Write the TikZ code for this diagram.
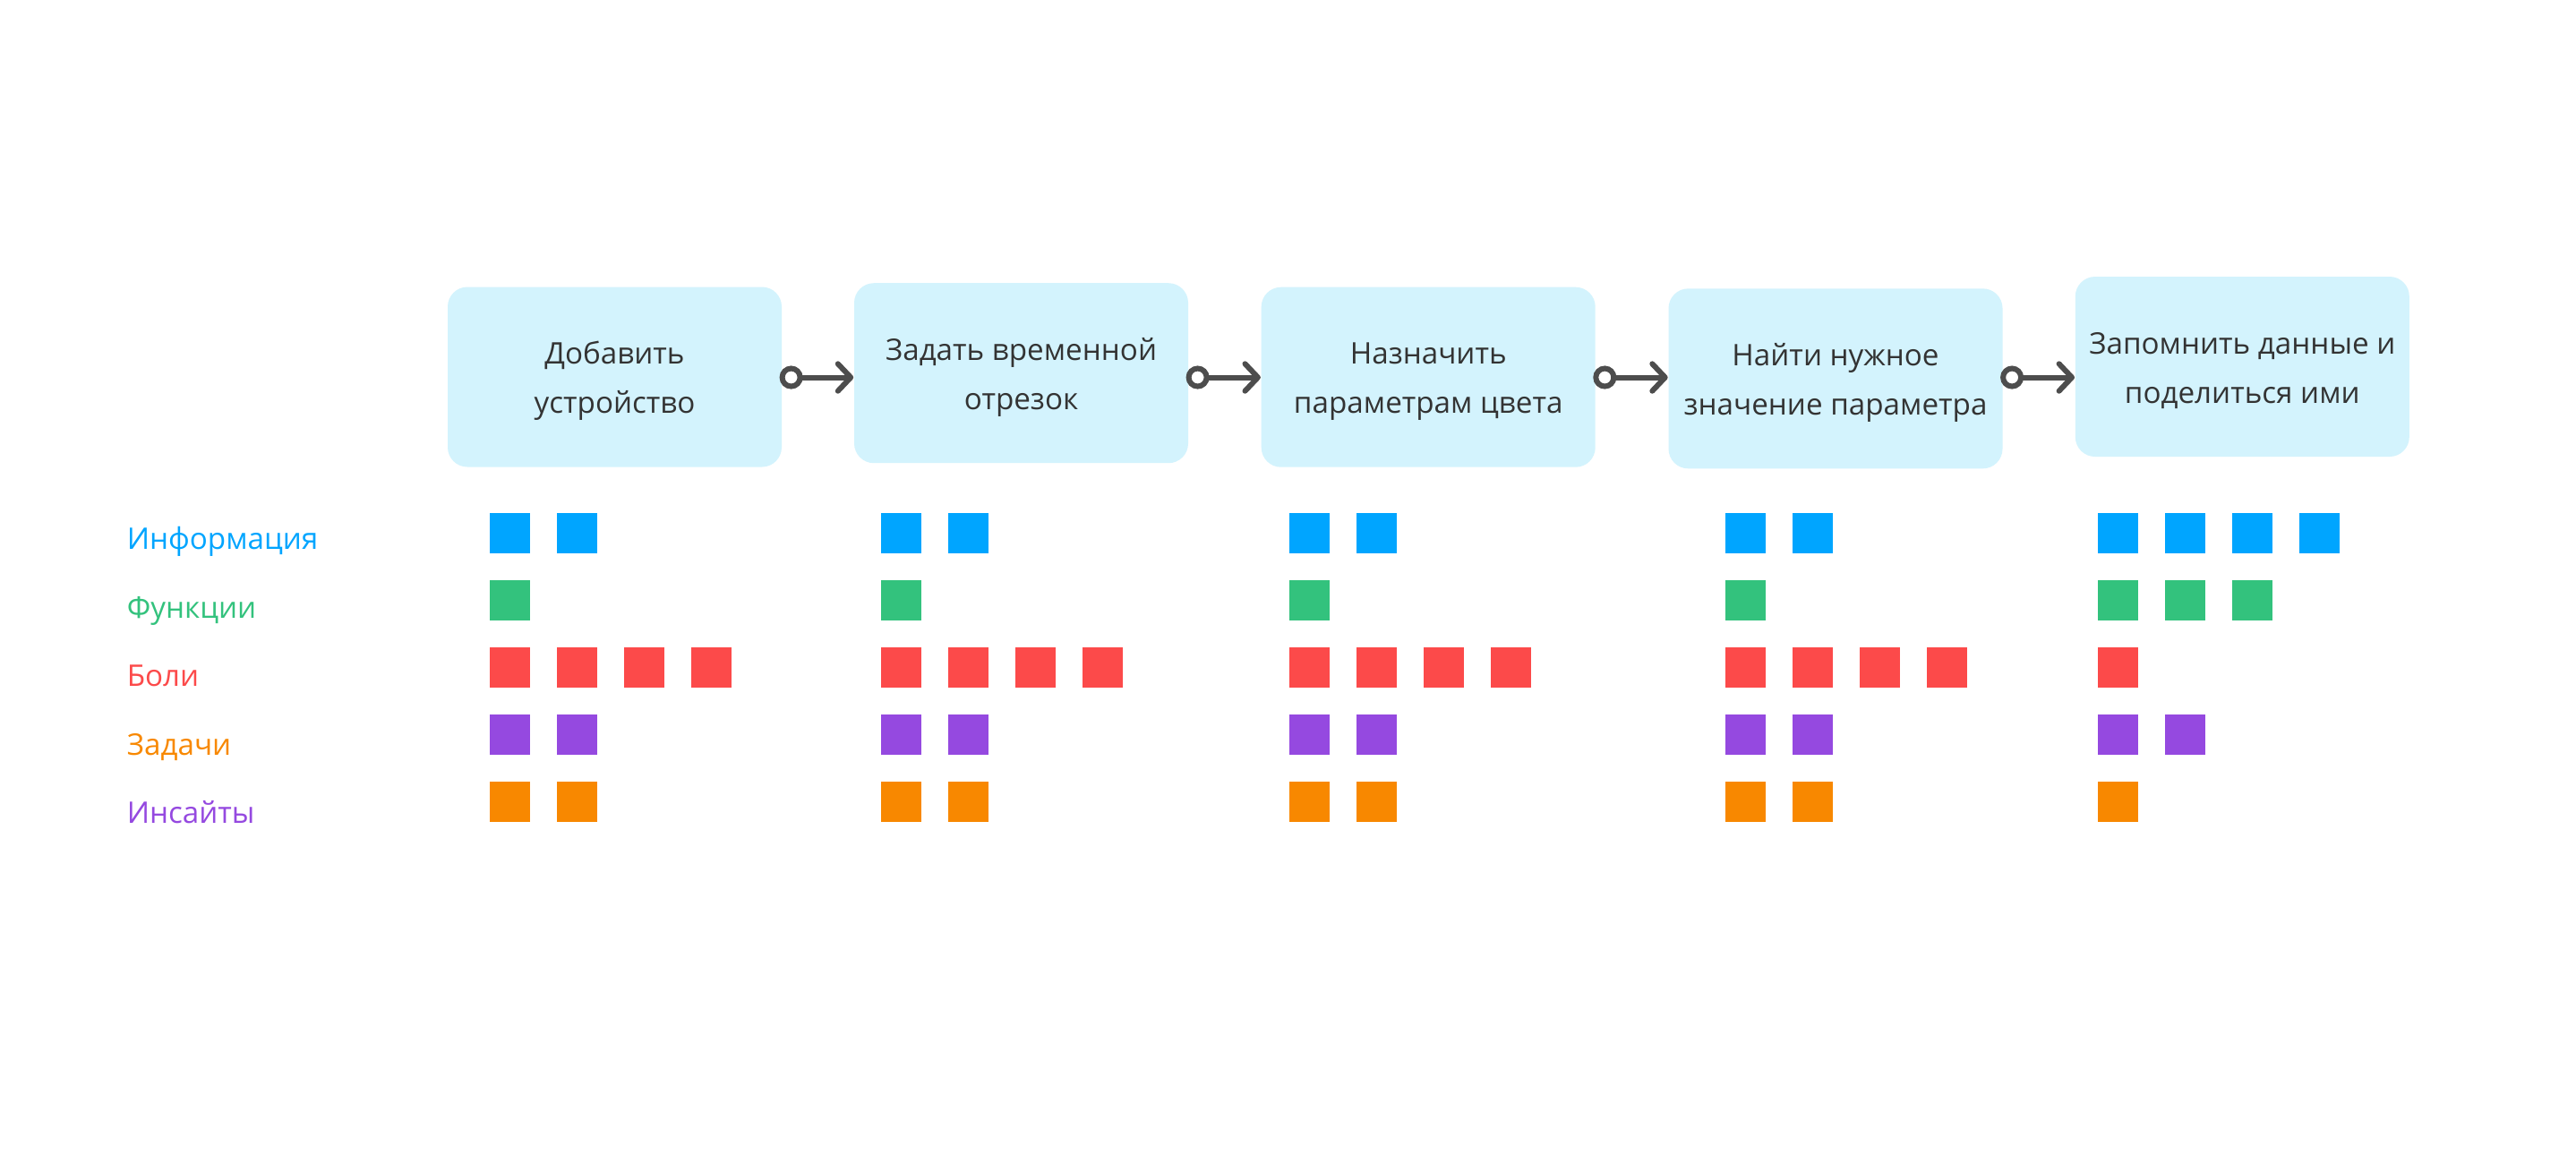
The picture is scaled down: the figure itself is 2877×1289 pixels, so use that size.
\documentclass[tikz,border=0pt]{standalone}
\usepackage{fontspec}
\setmainfont{Open Sans}
\usetikzlibrary{arrows.meta,calc}
\definecolor{boxfill}{HTML}{D3F3FD}
\definecolor{txt}{HTML}{333333}
\definecolor{conn}{HTML}{4D4D4D}
\definecolor{cblue}{HTML}{00A5FF}
\definecolor{cgreen}{HTML}{33C27D}
\definecolor{cred}{HTML}{FC4A4A}
\definecolor{cpurple}{HTML}{9549E0}
\definecolor{corange}{HTML}{F88800}
\tikzset{
  stepbox/.style={fill=boxfill, draw=none, rounded corners=5.5pt,
    minimum width=93.25pt, minimum height=50.25pt, inner sep=0pt,
    align=center, text=txt, font=\fontsize{8.3pt}{13.75pt}\selectfont,
    text height=22.35pt, text depth=2pt},
  flow/.style={draw=conn, line width=1.5pt,
    {Circle[open,length=6.5pt,width=6.5pt,line width=1.5pt]}-{Straight Barb[length=3.6pt,width=7.6pt,round,line width=1.5pt]},
    shorten <=-0.8pt},
  rowlabel/.style={anchor=base west, inner sep=0pt, font=\fontsize{8.3pt}{10pt}\selectfont}
}
\begin{document}
\begin{tikzpicture}[x=0.25pt,y=-0.25pt]
\useasboundingbox[fill=white] (0,0) rectangle (2877,1289);
% step boxes
\node[stepbox] (b1) at (686.5,421) {Добавить\\устройство};
\node[stepbox] (b2) at (1140.5,416.7) {Задать временной\\отрезок};
\node[stepbox] (b3) at (1595.2,421.2) {Назначить\\параметрам цвета};
\node[stepbox] (b4) at (2050,422.8) {Найти нужное\\значение параметра};
\node[stepbox] (b5) at (2504.3,409.5) {Запомнить данные и\\поделиться ими};
% connectors
\draw[flow] (b1.east |- 0,421.5) -- (b2.west |- 0,421.5);
\draw[flow] (b2.east |- 0,421.5) -- (b3.west |- 0,421.5);
\draw[flow] (b3.east |- 0,421.5) -- (b4.west |- 0,421.5);
\draw[flow] (b4.east |- 0,421.5) -- (b5.west |- 0,421.5);
% row labels
\node[rowlabel, text=cblue]   (l1) at (141,613) {Информация};
\node[rowlabel, text=cgreen]  (l2) at (141,690) {Функции};
\node[rowlabel, text=cred]    (l3) at (141,766) {Боли};
\node[rowlabel, text=corange] (l4) at (141,843) {Задачи};
\node[rowlabel, text=cpurple] (l5) at (141,919) {Инсайты};
% squares: \sqrow{groupx}{row}{count}{color}
\newcommand{\sqrow}[4]{%
  \foreach \k in {1,...,#3}{%
    \fill[#4] ({#1+75*(\k-1)},{573+75*#2}) rectangle ++(45,45);
  }%
}
% group 1
\sqrow{547}{0}{2}{cblue}
\sqrow{547}{1}{1}{cgreen}
\sqrow{547}{2}{4}{cred}
\sqrow{547}{3}{2}{cpurple}
\sqrow{547}{4}{2}{corange}
% group 2
\sqrow{984}{0}{2}{cblue}
\sqrow{984}{1}{1}{cgreen}
\sqrow{984}{2}{4}{cred}
\sqrow{984}{3}{2}{cpurple}
\sqrow{984}{4}{2}{corange}
% group 3
\sqrow{1440}{0}{2}{cblue}
\sqrow{1440}{1}{1}{cgreen}
\sqrow{1440}{2}{4}{cred}
\sqrow{1440}{3}{2}{cpurple}
\sqrow{1440}{4}{2}{corange}
% group 4
\sqrow{1927}{0}{2}{cblue}
\sqrow{1927}{1}{1}{cgreen}
\sqrow{1927}{2}{4}{cred}
\sqrow{1927}{3}{2}{cpurple}
\sqrow{1927}{4}{2}{corange}
% group 5
\sqrow{2343}{0}{4}{cblue}
\sqrow{2343}{1}{3}{cgreen}
\sqrow{2343}{2}{1}{cred}
\sqrow{2343}{3}{2}{cpurple}
\sqrow{2343}{4}{1}{corange}
\end{tikzpicture}
\end{document}
